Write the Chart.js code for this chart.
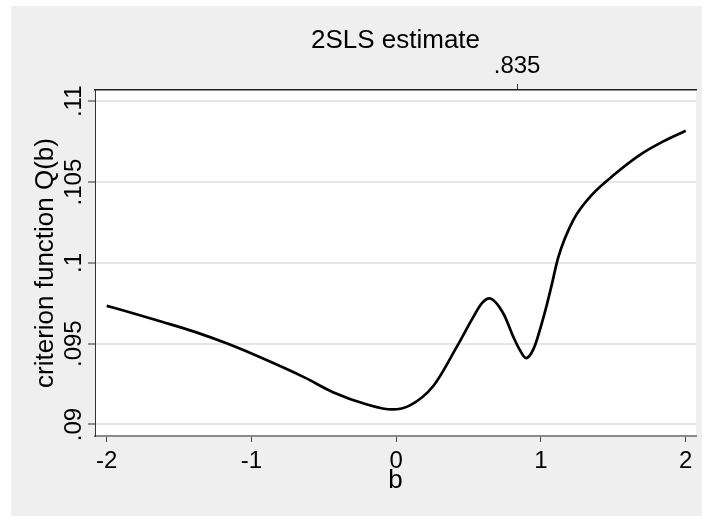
<!DOCTYPE html>
<html>
<head>
<meta charset="utf-8">
<script src="https://cdn.jsdelivr.net/npm/chart.js@4.4.0/dist/chart.umd.min.js"></script>
<style>
  html, body { margin: 0; padding: 0; background: #ffffff; }
  canvas { display: block; }
</style>
</head>
<body>
<canvas id="chart" width="702" height="516"></canvas>
<script>
// Grid of b values and the criterion function Q(b) evaluated on it
const bValues = [-2.0, -1.854, -1.619, -1.391, -1.163, -0.928, -0.631, -0.437, -0.202, -0.029,
                 0.095, 0.256, 0.418, 0.533, 0.591, 0.643, 0.740, 0.809, 0.855,
                 0.897, 0.931, 0.959, 1.028, 1.069, 1.120, 1.224, 1.339, 1.500, 1.684,
                 1.845, 2.0];
const qValues = [0.09734, 0.09698, 0.09636, 0.09573, 0.09499, 0.09411, 0.09290, 0.09200, 0.09124, 0.09093,
                 0.09118, 0.09238, 0.09480, 0.09666, 0.09749, 0.09780, 0.09687, 0.09542, 0.09459,
                 0.09411, 0.09438, 0.09490, 0.09698, 0.09844, 0.10036, 0.10266, 0.10409, 0.10542, 0.10669,
                 0.10752, 0.10818];

// Axis ticks
const xTickValues = [-2, -1, 0, 1, 2];
const xTickLabels = ['-2', '-1', '0', '1', '2'];
const yTickValues = [0.09, 0.095, 0.1, 0.105, 0.11];
const yTickLabels = ['.09', '.095', '.1', '.105', '.11'];
// Marker on the top axis at the 2SLS point estimate
const estimateValues = [0.835];
const estimateLabels = ['.835'];

const FAMILY = "'Liberation Sans', Arial, sans-serif";
const tickFont = { family: FAMILY, size: 24, lineHeight: 1 };
const titleFont = { family: FAMILY, size: 26, lineHeight: 1 };

const X_MIN = -2.081, X_MAX = 2.071;
const Y_MIN = 0.089286, Y_MAX = 0.1107;

// Grey page with a white plot region
const backdrop = {
  id: 'backdrop',
  beforeDraw(chart) {
    const { ctx, chartArea: a } = chart;
    ctx.save();
    ctx.fillStyle = '#ffffff';
    ctx.fillRect(0, 0, chart.width, chart.height);
    ctx.fillStyle = '#efefef';
    ctx.fillRect(11, 6, chart.width - 11, chart.height - 6);
    ctx.fillStyle = '#ffffff';
    ctx.fillRect(a.left, a.top, a.right - a.left, a.bottom - a.top);
    ctx.restore();
  }
};

new Chart(document.getElementById('chart'), {
  type: 'line',
  data: {
    datasets: [{
      data: bValues.map((b, i) => ({ x: b, y: qValues[i] })),
      borderColor: '#000000',
      borderWidth: 2.7,
      pointRadius: 0,
      fill: false,
      cubicInterpolationMode: 'monotone',
      xAxisID: 'x',
      yAxisID: 'y'
    }]
  },
  options: {
    responsive: false,
    animation: false,
    layout: { padding: { left: 0, right: 6, top: 0, bottom: 0 } },
    plugins: { legend: { display: false }, tooltip: { enabled: false } },
    scales: {
      x: {
        type: 'linear',
        position: 'bottom',
        min: X_MIN,
        max: X_MAX,
        afterBuildTicks: s => { s.ticks = xTickValues.map(v => ({ value: v })); },
        afterFit: s => { s.height = 80; },
        ticks: {
          callback: v => xTickLabels[xTickValues.indexOf(v)],
          font: tickFont, color: '#000000', padding: 7,
          autoSkip: false, maxRotation: 0
        },
        grid: { display: true, drawOnChartArea: false, drawTicks: true,
                tickLength: 6, tickColor: '#444444', tickWidth: 1 },
        border: { display: true, color: '#8a8a8a', width: 2 },
        title: { display: true, text: 'b', font: titleFont, color: '#000000',
                 padding: { top: 0, bottom: 22 } }
      },
      x2: {
        type: 'linear',
        position: 'top',
        min: X_MIN,
        max: X_MAX,
        afterBuildTicks: s => { s.ticks = estimateValues.map(v => ({ value: v })); },
        afterFit: s => { s.height = 90; },
        ticks: {
          callback: v => estimateLabels[estimateValues.indexOf(v)],
          font: tickFont, color: '#000000', padding: 6,
          autoSkip: false, maxRotation: 0
        },
        grid: { display: true, drawOnChartArea: false, drawTicks: true,
                tickLength: 6, tickColor: '#333333', tickWidth: 1 },
        border: { display: true, color: '#222222', width: 1.5 },
        title: { display: true, text: '2SLS estimate', font: titleFont, color: '#000000',
                 padding: { top: 28, bottom: 0 } }
      },
      y: {
        type: 'linear',
        position: 'left',
        min: Y_MIN,
        max: Y_MAX,
        afterBuildTicks: s => { s.ticks = yTickValues.map(v => ({ value: v })); },
        afterFit: s => { s.width = 95; },
        ticks: {
          callback: v => yTickLabels[yTickValues.indexOf(v)],
          font: tickFont, color: '#000000',
          minRotation: 90, maxRotation: 90, crossAlign: 'center', padding: -10,
          autoSkip: false
        },
        grid: { color: '#e6e6e6', lineWidth: 2, drawTicks: true,
                tickLength: 7, tickColor: '#333333', tickWidth: 1 },
        border: { display: true, color: '#333333', width: 1 },
        title: { display: true, text: 'criterion function Q(b)', font: titleFont, color: '#000000',
                 padding: { top: 33, bottom: 0 } }
      }
    }
  },
  plugins: [backdrop]
});
</script>
</body>
</html>
